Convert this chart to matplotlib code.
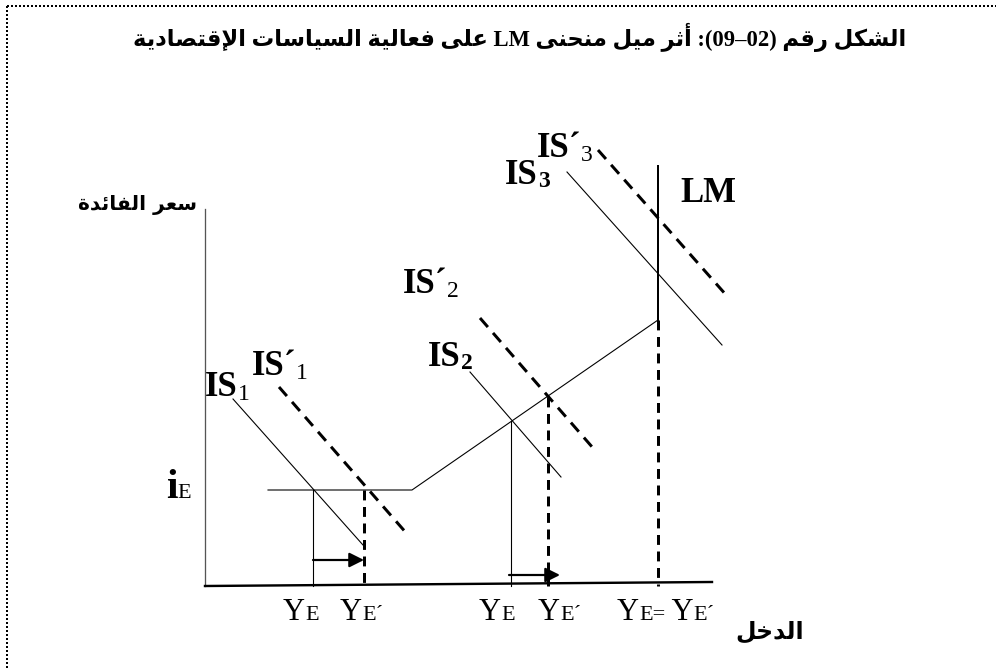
import matplotlib
matplotlib.use("Agg")
import matplotlib.pyplot as plt

# --- رسم توضيحي: أثر ميل منحنى LM (إحداثيات بالبكسل) ---

title_ar_right = "الشكل رقم"
title_num = ":(09–02)"
title_ar_mid = "أثر ميل منحنى"
title_ar_left = "على فعالية السياسات الإقتصادية"
ylabel_ar = "سعر الفائدة"
xlabel_ar = "الدخل"

# منحنى LM : جزء أفقي ثم صاعد ثم عمودي
lm_x = [268, 412, 658, 658]
lm_y = [490, 490, 320, 166]

# منحنيات IS (خط متصل) و IS' (متقطع)
is_solid = [([233, 363], [399, 545]),
            ([470, 561], [372, 477]),
            ([567, 722], [172, 345])]
is_dash = [([279, 408], [387, 535]),
           ([480, 593], [318, 448]),
           ([598, 727], [150, 296])]

# نقاط التوازن و الإسقاطات على محور الدخل
drop_solid = [(313, 490), (511, 421)]
drop_dash = [(364, 490), (548, 397), (658, 320)]
axis_y = 586

arrows = [(313, 364, 560), (509, 560, 575)]

# --- تشكيل الحروف العربية ---
DUAL = {'ب': 0xFE8F, 'ت': 0xFE95, 'ث': 0xFE99, 'ج': 0xFE9D, 'ح': 0xFEA1,
        'خ': 0xFEA5, 'س': 0xFEB1, 'ش': 0xFEB5, 'ص': 0xFEB9, 'ض': 0xFEBD,
        'ط': 0xFEC1, 'ظ': 0xFEC5, 'ع': 0xFEC9, 'غ': 0xFECD, 'ف': 0xFED1,
        'ق': 0xFED5, 'ك': 0xFED9, 'ل': 0xFEDD, 'م': 0xFEE1, 'ن': 0xFEE5,
        'ه': 0xFEE9, 'ي': 0xFEF1, 'ئ': 0xFE89}
RIGHT = {'ا': 0xFE8D, 'أ': 0xFE83, 'إ': 0xFE87, 'آ': 0xFE81, 'ة': 0xFE93,
         'د': 0xFEA9, 'ذ': 0xFEAB, 'ر': 0xFEAD, 'ز': 0xFEAF, 'و': 0xFEED,
         'ى': 0xFEEF, 'ؤ': 0xFE85}
LAMALEF = {'ا': 0xFEFB, 'أ': 0xFEF7, 'إ': 0xFEF9, 'آ': 0xFEF5}


def shape(w):
    out = []
    i = 0
    while i < len(w):
        c = w[i]
        pj = i > 0 and w[i - 1] in DUAL
        if c == 'ل' and i + 1 < len(w) and w[i + 1] in LAMALEF:
            out.append(chr(LAMALEF[w[i + 1]] + pj))
            i += 2
            continue
        nj = i + 1 < len(w) and (w[i + 1] in DUAL or w[i + 1] in RIGHT)
        if c in DUAL:
            b = DUAL[c]
            f = b + 3 if (pj and nj) else b + 1 if pj else b + 2 if nj else b
        elif c in RIGHT:
            f = RIGHT[c] + pj
        else:
            f = ord(c)
        out.append(chr(f))
        i += 1
    return ''.join(out)


def ar(s):
    return ' '.join(shape(w) for w in s.split(' '))[::-1]


fig = plt.figure(figsize=(9.96, 6.70), dpi=100)
ax = fig.add_axes([0, 0, 1, 1])
ax.set_xlim(0, 996)
ax.set_ylim(670, 0)
ax.axis('off')

PX = 0.72
SERIF = ['Liberation Serif', 'DejaVu Sans']

# إطار منقط
ax.plot([7, 996], [6, 6], color='k', lw=2 * PX, ls=(0, (1, 1)))
ax.plot([7, 7], [6, 670], color='k', lw=2 * PX, ls=(0, (1, 1)))

# المحاور
ax.plot([205, 205], [209, axis_y], color='#555555', lw=1.3 * PX)
ax.plot([205, 712], [axis_y, 582], color='k', lw=2.4 * PX)

ax.plot(lm_x[:3], lm_y[:3], color='k', lw=1.1 * PX)
ax.plot(lm_x[2:], lm_y[2:], color='k', lw=2 * PX)

for xs, ys in is_solid:
    ax.plot(xs, ys, color='k', lw=1.1 * PX)
for xs, ys in is_dash:
    ax.plot(xs, ys, color='k', lw=3 * PX, ls=(0, (4, 2.6)))

for x, y in drop_solid:
    ax.plot([x, x], [y, axis_y], color='k', lw=1.1 * PX)
for x, y in drop_dash:
    ax.plot([x, x], [y, axis_y], color='k', lw=3 * PX, ls=(0, (3.3, 2.2)))

for x0, x1, y in arrows:
    ax.annotate('', xy=(x1, y), xytext=(x0, y),
                arrowprops=dict(arrowstyle='-|>', color='k', lw=2.2 * PX,
                                mutation_scale=22, shrinkA=0, shrinkB=0))


def chain(x, y, parts):
    # parts: (text, size, weight, dy)
    s, size, wt, dy = parts[0]
    t = ax.text(x, y, s, fontsize=size, fontweight=wt, family=SERIF,
                va='baseline', ha='left')
    for s, size, wt, dy in parts[1:]:
        t = ax.annotate(s, xy=(1, y), xycoords=(t, 'data'), xytext=(0, dy),
                        textcoords='offset points', fontsize=size,
                        fontweight=wt, family=SERIF, va='baseline', ha='left')


chain(537, 157, [("IS´", 25, 'bold', 0), ("3", 17, 'normal', -3)])
chain(505, 184, [("IS", 25, 'bold', 0), ("3", 17, 'bold', -2)])
chain(680, 202, [("LM", 25, 'bold', 0)])
chain(403, 293, [("IS´", 25, 'bold', 0), ("2", 17, 'normal', -3)])
chain(428, 366, [("IS", 25, 'bold', 0), ("2", 17, 'bold', -2)])
chain(252, 375, [("IS´", 25, 'bold', 0), ("1", 17, 'normal', -3)])
chain(205, 396, [("IS", 25, 'bold', 0), ("1", 17, 'normal', -3)])
chain(166, 498, [("i", 30, 'bold', 0), ("E", 16, 'normal', 0)])

chain(283, 620, [("Y", 22, 'normal', 0), ("E", 16, 'normal', 0)])
chain(340, 620, [("Y", 22, 'normal', 0), ("E´", 16, 'normal', 0)])
chain(479, 620, [("Y", 22, 'normal', 0), ("E", 16, 'normal', 0)])
chain(538, 620, [("Y", 22, 'normal', 0), ("E´", 16, 'normal', 0)])
chain(617, 620, [("Y", 22, 'normal', 0), ("E=", 16, 'normal', 0),
                 (" Y", 22, 'normal', 0), ("E´", 16, 'normal', 0)])

ax.text(137, 205, ar(ylabel_ar), fontsize=14.5, fontweight='bold',
        family=['DejaVu Sans'], ha='center', va='center')
ax.text(770, 632, ar(xlabel_ar), fontsize=17, fontweight='bold',
        family=['DejaVu Sans'], ha='center', va='center')

title = (ar(title_ar_left) + " LM " + ar(title_ar_mid) + " " + title_num
         + " " + ar(title_ar_right))
ax.text(520, 37, title, fontsize=16.3, fontweight='bold', family=SERIF,
        ha='center', va='center')

fig.savefig('out.png', dpi=100)
